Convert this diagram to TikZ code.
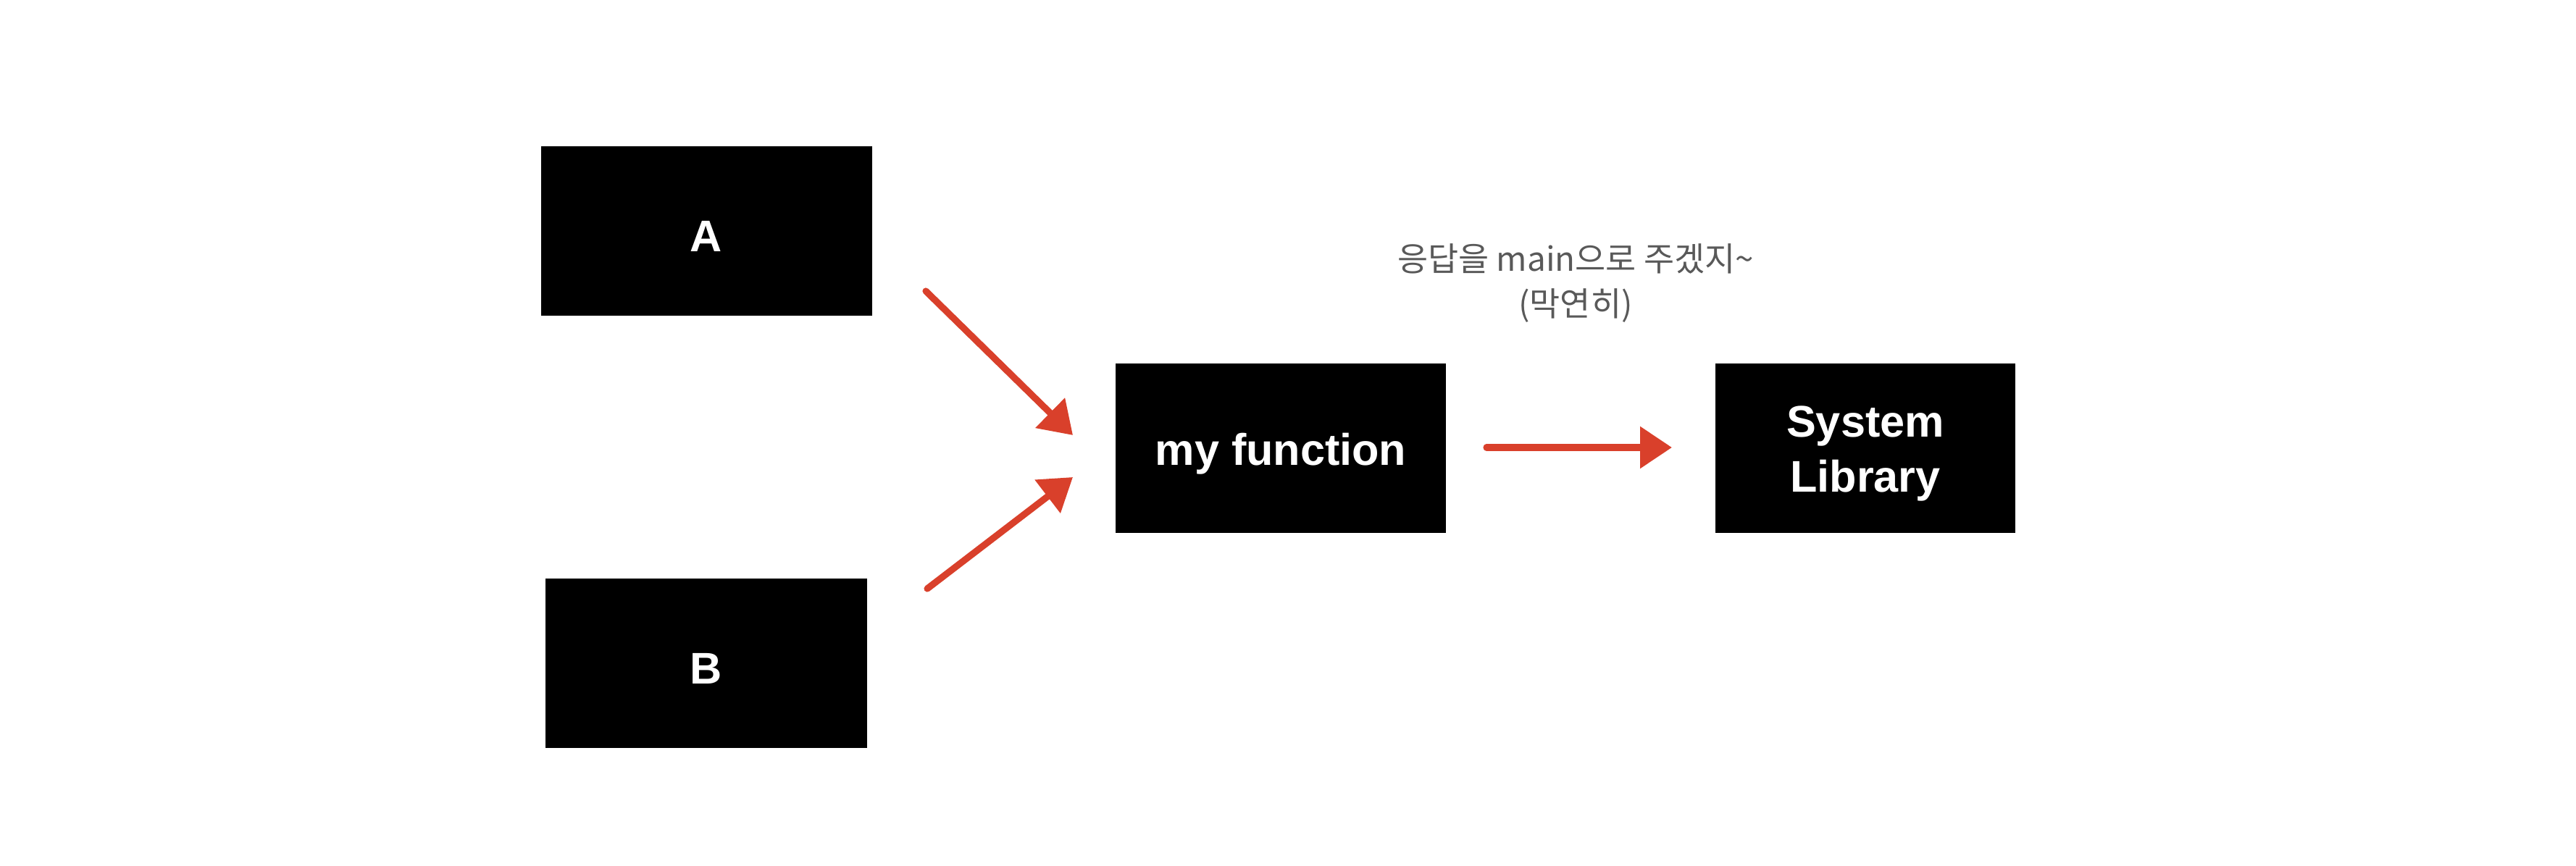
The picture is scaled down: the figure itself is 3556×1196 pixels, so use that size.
\documentclass[tikz,border=0pt]{standalone}
\usepackage{fontspec}
\setmainfont{Liberation Sans}
\newfontfamily\kofont{Noto Sans CJK KR}
\usetikzlibrary{arrows.meta}
\definecolor{arrowred}{HTML}{D9402B}
\definecolor{notegray}{HTML}{595959}
\begin{document}
\begin{tikzpicture}[x=0.25pt,y=-0.25pt]
\tikzset{
  blackbox/.style={fill=black, draw=none, inner sep=0pt, minimum height=234*0.25pt},
  boxtext/.style={text=white, font=\bfseries\fontsize{15.3pt}{19pt}\selectfont, align=center, inner sep=0pt, yshift=-1.9pt},
  redarrow/.style={draw=arrowred, line width=2.3pt, line cap=round, -{Triangle[length=11pt,width=14pt]}},
  note/.style={text=notegray, font=\kofont\fontsize{11.45pt}{15.3pt}\selectfont, align=center}
}
\useasboundingbox (0,0) rectangle (3556,1196);
\node[blackbox, minimum width=457*0.25pt, label={[boxtext]center:A}] (A) at (975,319) {};
\node[blackbox, minimum width=444*0.25pt, label={[boxtext]center:B}] (B) at (975,916) {};
\node[blackbox, minimum width=456*0.25pt, label={[boxtext]center:my function}] (F) at (1768,619) {};
\node[blackbox, minimum width=414*0.25pt, label={[boxtext]center:{System\\Library}}] (S) at (2575,619) {};
\node[note] (N) at (2175,391) {응답을 main으로 주겠지\textasciitilde\\(막연히)};
\coordinate (a1s) at (1278,402);
\coordinate (a1e) at (1481,601);
\coordinate (a2s) at (1280,813);
\coordinate (a2e) at (1481,659);
\coordinate (a3s) at (2052,618);
\coordinate (a3e) at (2308,618);
\draw[redarrow] (a1s) -- (a1e);
\draw[redarrow] (a2s) -- (a2e);
\draw[redarrow] (a3s) -- (a3e);
\end{tikzpicture}
\end{document}
